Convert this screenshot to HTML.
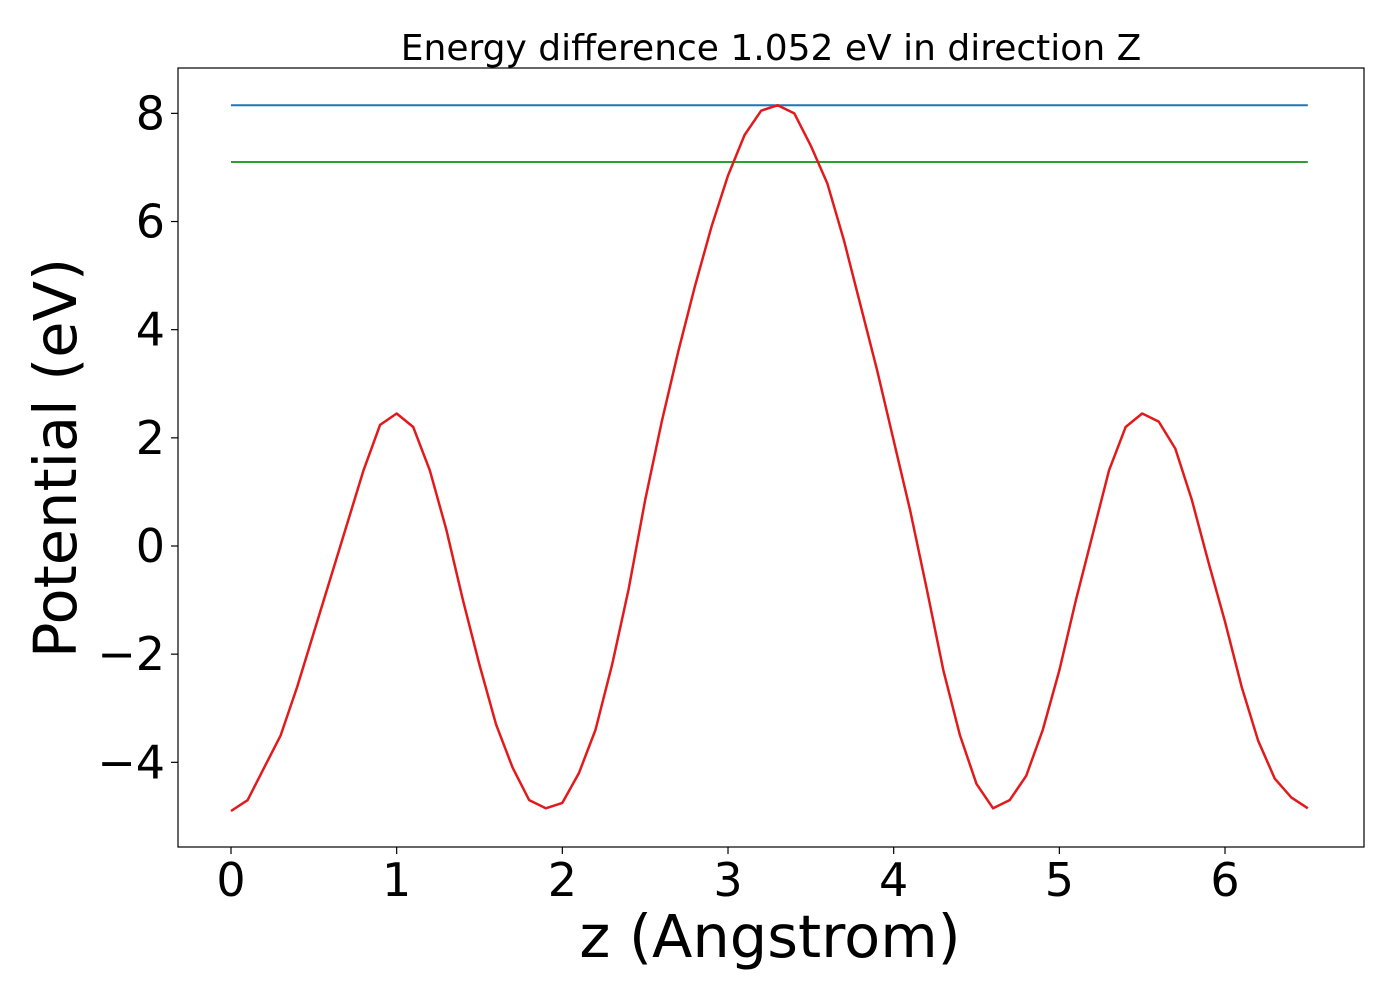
<!DOCTYPE html>
<html><head><meta charset="utf-8"><style>
body{margin:0;background:#fff;}
svg text{font-family:"DejaVu Sans","Liberation Sans",sans-serif;fill:#000;}
</style></head><body>
<svg id="chart" width="1400" height="1000" xmlns="http://www.w3.org/2000/svg">
<rect width="1400" height="1000" fill="#fff"/>
<g id="plot"></g>
</svg>
<script>
const xs=[0,0.1,0.2,0.3,0.4,0.5,0.6,0.7,0.8,0.9,1.0,1.1,1.2,1.3,1.4,1.5,1.6,1.7,1.8,1.9,2.0,2.1,2.2,2.3,2.4,2.5,2.6,2.7,2.8,2.9,3.0,3.1,3.2,3.3,3.4,3.5,3.6,3.7,3.8,3.9,4.0,4.1,4.2,4.3,4.4,4.5,4.6,4.7,4.8,4.9,5.0,5.1,5.2,5.3,5.4,5.5,5.6,5.7,5.8,5.9,6.0,6.1,6.2,6.3,6.4,6.5];
const potential=[-4.9,-4.7,-4.1,-3.5,-2.6,-1.6,-0.6,0.4,1.4,2.24,2.45,2.2,1.4,0.3,-1.0,-2.2,-3.3,-4.1,-4.7,-4.85,-4.75,-4.2,-3.4,-2.2,-0.8,0.85,2.3,3.6,4.8,5.9,6.85,7.6,8.05,8.15,8.0,7.4,6.7,5.65,4.45,3.25,1.95,0.65,-0.8,-2.3,-3.5,-4.4,-4.85,-4.7,-4.25,-3.4,-2.3,-1.0,0.2,1.4,2.2,2.45,2.3,1.8,0.85,-0.3,-1.4,-2.6,-3.6,-4.3,-4.65,-4.85];
const refLevels=[8.15,7.1];
const refColors=["#1f77b4","#2ca02c"];
const xTicks=[0,1,2,3,4,5,6];
const yTicks=[-4,-2,0,2,4,6,8];
const X=v=>231+v*165.67, Y=v=>546-v*54.08;
const NS="http://www.w3.org/2000/svg", g=document.getElementById('plot');
function mk(t,a,txt){const e=document.createElementNS(NS,t);for(const k in a)e.setAttribute(k,a[k]);if(txt!==undefined)e.textContent=txt;g.appendChild(e);return e;}
let f=mk('rect',{x:178,y:68,width:1186,height:779,fill:'none',stroke:'#000','stroke-width':1.2});


refLevels.forEach((v,i)=>{const l=mk('line',{x1:X(0),x2:X(6.5),y1:Y(v),y2:Y(v),stroke:refColors[i],'stroke-width':2});

});
let p=mk('polyline',{points:xs.map((x,i)=>X(x)+','+Y(potential[i])).join(' '),fill:'none',stroke:'#e31a1c','stroke-width':2.5,'stroke-linejoin':'round'});


xTicks.forEach(v=>{const l=mk('line',{x1:X(v),x2:X(v),y1:847,y2:854,stroke:'#000','stroke-width':1.2});


const t=mk('text',{x:X(v),y:896,'font-size':46,'text-anchor':'middle'},String(v));

});
yTicks.forEach(v=>{const l=mk('line',{x1:171,x2:178,y1:Y(v),y2:Y(v),stroke:'#000','stroke-width':1.2});


const t=mk('text',{x:165,y:Y(v)+16,'font-size':46,'text-anchor':'end'},(v<0?'\u2212':'')+Math.abs(v));

});
let tt=mk('text',{x:771,y:60,'font-size':36,'text-anchor':'middle'},'Energy difference 1.052 eV in direction Z');


let xl=mk('text',{x:770,y:957,'font-size':59,'text-anchor':'middle'},'z (Angstrom)');


let yl=mk('text',{x:0,y:0,'font-size':59,'text-anchor':'middle',transform:'translate(76,458) rotate(-90)'},'Potential (eV)');


</script>
</body></html>
